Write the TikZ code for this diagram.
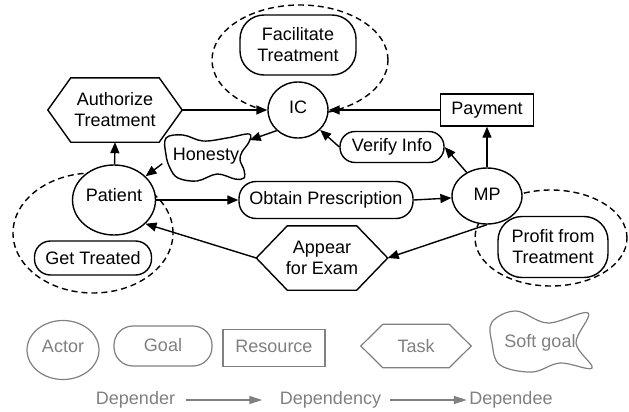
\documentclass[tikz,border=0pt]{standalone}
\usepackage{fontspec}
\setmainfont{Liberation Sans}
\usetikzlibrary{shapes.geometric,arrows.meta}
\definecolor{lg}{RGB}{128,128,128}
\newcommand\mkhex[3]{\draw[#3] (#1.west) -- ([xshift=#2]#1.north west) -- ([xshift=-#2]#1.north east) -- (#1.east) -- ([xshift=-#2]#1.south east) -- ([xshift=#2]#1.south west) -- cycle;}
\tikzset{
  base/.style={font=\fontsize{18}{21}\selectfont, align=center, inner sep=0pt, line width=1.4pt},
  actor/.style={base, ellipse, draw, fill=white},
  goal/.style={base, rectangle, draw, fill=white},
  res/.style={base, rectangle, draw, fill=white},
  plain/.style={base, rectangle},
  lactor/.style={actor, draw=lg, text=lg, line width=1.2pt},
  lgoal/.style={goal, draw=lg, text=lg, line width=1.2pt},
  lres/.style={res, draw=lg, text=lg, line width=1.2pt},
  lplain/.style={plain, text=lg},
  shapeline/.style={line width=1.4pt, fill=white},
  lshapeline/.style={line width=1.2pt, draw=lg},
  dashline/.style={line width=1.4pt, dash pattern=on 6pt off 4pt},
  arr/.style={line width=1.4pt, -{Triangle[length=11pt,width=9pt]}},
  garr/.style={line width=1.2pt, draw=lg, -{Triangle[length=13pt,width=8pt]}, fill=lg},
}
\begin{document}
\begin{tikzpicture}[x=1pt,y=-1pt]
\useasboundingbox (0,0) rectangle (629,412);
% dashed actor boundaries
\draw[dashline] (300,60) ellipse [x radius=88pt, y radius=55pt];
\draw[dashline] (93,233) ellipse [x radius=80pt, y radius=60pt];
\draw[dashline] (551,238) ellipse [x radius=76pt, y radius=48pt];
% soft goal outline (Honesty)
\draw[shapeline] plot[smooth cycle, tension=0.6] coordinates {(166,138) (183,135) (203,141) (227,138) (249,134) (249,142) (242,152) (240,160) (244,170) (244,178) (235,179) (217,174) (197,181) (178,178) (170,168) (166,155)};
% nodes
\node[actor, minimum width=60pt, minimum height=56pt] (ic) at (298,110) {\raisebox{6pt}{IC}};
\node[goal, minimum width=116pt, minimum height=60pt, rounded corners=24pt] (fac) at (298,45) {Facilitate\\Treatment};
\node[plain, minimum width=133pt, minimum height=63pt] (auth) at (115,110) {Authorize\\Treatment};
\mkhex{auth}{23pt}{shapeline}
\node[plain, minimum width=133pt, minimum height=63pt] at (115,110) {Authorize\\Treatment};
\node[res, minimum width=93pt, minimum height=32pt] (pay) at (487,110) {Payment};
\node[goal, minimum width=104pt, minimum height=31pt, rounded corners=15pt] (vi) at (392,147) {Verify Info};
\node[actor, minimum width=70pt, minimum height=56pt] (mp) at (487,196) {\raisebox{4pt}{MP}};
\node[plain, minimum width=86pt, minimum height=44pt] (hon) at (206,156) {Honesty};
\node[actor, minimum width=83pt, minimum height=70pt] (pat) at (114,200) {\raisebox{11pt}{Patient}};
\node[goal, minimum width=174pt, minimum height=37pt, rounded corners=17pt] (obt) at (326,200) {Obtain Prescription};
\node[plain, minimum width=130pt, minimum height=63pt] (app) at (322,258) {Appear\\for Exam};
\mkhex{app}{31pt}{shapeline}
\node[plain, minimum width=130pt, minimum height=63pt] at (322,258) {Appear\\for Exam};
\node[goal, minimum width=117pt, minimum height=34pt, rounded corners=16pt] (gt) at (93,258) {Get Treated};
\node[goal, minimum width=110pt, minimum height=61pt, rounded corners=24pt] (pro) at (553,247) {Profit from\\Treatment};
% dependencies
\draw[arr] (auth.east) -- (ic);
\draw[arr] (pay) -- (ic);
\draw[arr] (ic.224) -- (hon.20);
\draw[arr] (hon.190) -- (pat);
\draw[arr] (vi.west) -- (ic);
\draw[arr] (mp) -- (vi.east);
\draw[arr] (mp) -- (pay);
\draw[arr] (pat) -- (auth.south);
\draw[arr] (pat.east) -- (obt.west);
\draw[arr] (obt.east) -- (mp);
\draw[arr] (mp.south) -- (app.east);
\draw[arr] (app.west) -- (pat.-37);
% legend
\node[lactor, minimum width=72pt, minimum height=59pt] (lac) at (63,350) {\raisebox{8pt}{Actor}};
\node[lgoal, minimum width=98pt, minimum height=40pt, rounded corners=19pt] (lgo) at (163,346) {\raisebox{3pt}{Goal}};
\node[lres, minimum width=102pt, minimum height=37pt] (lre) at (274,348) {\raisebox{4pt}{Resource}};
\node[lplain, minimum width=109pt, minimum height=42pt] (lta) at (416,346) {Task};
\mkhex{lta}{22pt}{lshapeline}
\draw[lshapeline] plot[smooth cycle, tension=0.6] coordinates {(492,322) (516,311) (548,323) (588,313) (576,343) (592,368) (560,363) (532,372) (500,365) (492,343)};
\node[lplain] (lsg) at (540,343) {Soft goal};
\node[lplain] (d1) at (135.5,400) {Depender};
\node[lplain] (d2) at (330.5,400) {Dependency};
\node[lplain] (d3) at (511,400) {Dependee};
\draw[garr] ([xshift=10pt]d1.east) -- ([xshift=-17pt]d2.west);
\draw[garr] ([xshift=8pt]d2.east) -- ([xshift=-2pt]d3.west);
\end{tikzpicture}
\end{document}
